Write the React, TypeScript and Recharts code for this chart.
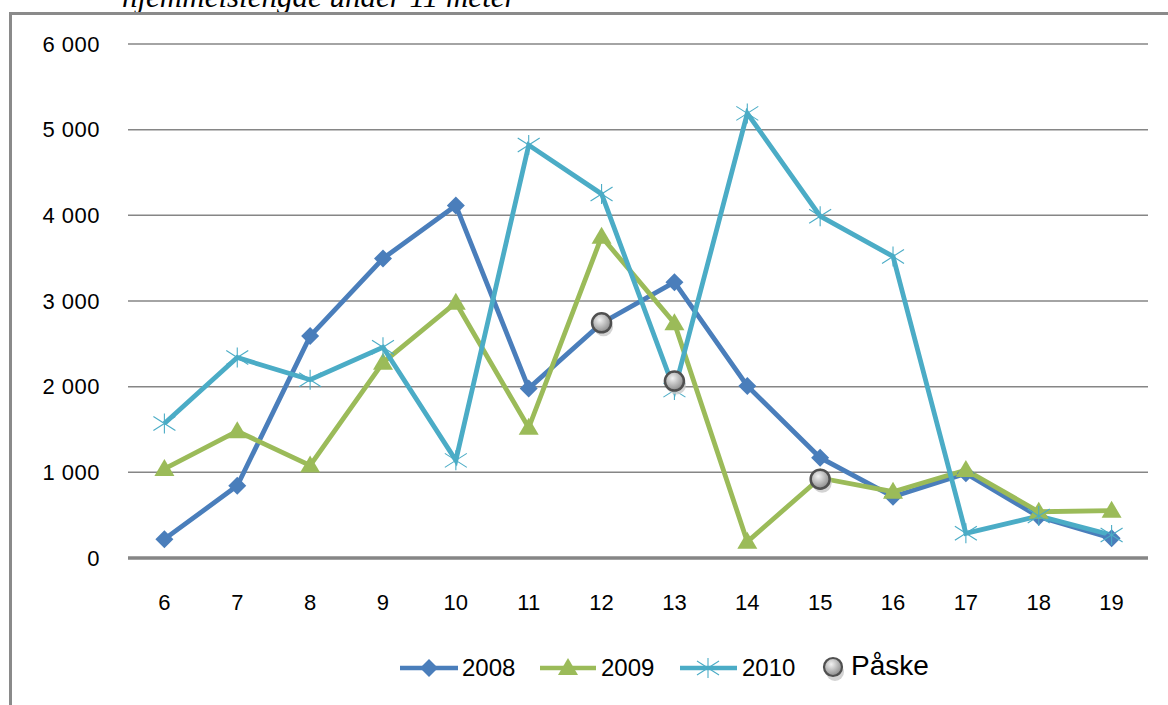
import React from "react";
import { LineChart, Line, CartesianGrid, XAxis, YAxis } from "recharts";

const weeks = [6, 7, 8, 9, 10, 11, 12, 13, 14, 15, 16, 17, 18, 19];
const s2008 = [220, 843, 2590, 3496, 4115, 1980, 2740, 3220, 2008, 1171, 716, 988, 482, 230];
const s2009 = [1040, 1480, 1080, 2280, 2980, 1520, 3750, 2740, 190, 934, 774, 1027, 540, 552];
const s2010 = [1570, 2340, 2080, 2460, 1140, 4820, 4250, 1960, 5190, 3990, 3520, 288, 490, 268];
const paske = [null, null, null, null, null, null, 2745, 2065, null, 920, null, null, null, null];
const yTicks = [0, 1000, 2000, 3000, 4000, 5000, 6000];

const C08 = "#4A7EBB";
const C09 = "#9BBB59";
const C10 = "#4BACC6";
const GRID = "#868686";
const FONT = "Liberation Sans, Arial, sans-serif";

const data = weeks.map((w, i) => ({
  week: w,
  y2008: s2008[i],
  y2009: s2009[i],
  y2010: s2010[i],
  paske: paske[i],
}));

const fmt = (v: number) => (v >= 1000 ? `${Math.floor(v / 1000)} ${String(v % 1000).padStart(3, "0")}` : `${v}`);

// recharts passes fill="#fff" to dots, so colours are fixed here
const Diamond = ({ cx, cy }: any) =>
  cx == null || cy == null ? null : (
    <path d={`M${cx},${cy - 9} L${cx + 9},${cy} L${cx},${cy + 9} L${cx - 9},${cy} Z`} fill={C08} />
  );

const Triangle = ({ cx, cy }: any) =>
  cx == null || cy == null ? null : (
    <path d={`M${cx},${cy - 10} L${cx + 10},${cy + 7} L${cx - 10},${cy + 7} Z`} fill={C09} />
  );

const Star = ({ cx, cy }: any) =>
  cx == null || cy == null ? null : (
    <g stroke={C10} strokeWidth={1.1}>
      <line x1={cx} y1={cy - 10} x2={cx} y2={cy + 10} />
      <line x1={cx - 11} y1={cy - 7} x2={cx + 11} y2={cy + 7} />
      <line x1={cx - 11} y1={cy + 7} x2={cx + 11} y2={cy - 7} />
    </g>
  );

const Ball = ({ cx, cy }: any) =>
  cx == null || cy == null ? null : (
    <g>
      <circle cx={cx + 2} cy={cy + 4} r={9.5} fill="#c8c8c8" opacity={0.8} />
      <circle cx={cx} cy={cy} r={9.5} fill="url(#ballGrad)" stroke="#505050" strokeWidth={2.5} />
    </g>
  );

const LegendBox = () => (
  <svg width={600} height={40} style={{ position: "absolute", left: 390, top: 648 }}>
    <defs>
      <radialGradient id="ballGradL" cx="40%" cy="35%" r="65%">
        <stop offset="0%" stopColor="#f2f2f2" />
        <stop offset="100%" stopColor="#8c8c8c" />
      </radialGradient>
    </defs>
    <g transform="translate(-390,-648)">
      <line x1={400} y1={668} x2={458} y2={668} stroke={C08} strokeWidth={4.5} />
      <Diamond cx={429} cy={668} />
      <text x={462} y={676} fontSize={24} fontFamily={FONT} fill="#000">2008</text>
      <line x1={540} y1={668} x2={596} y2={668} stroke={C09} strokeWidth={4.5} />
      <Triangle cx={568} cy={668} />
      <text x={601} y={676} fontSize={24} fontFamily={FONT} fill="#000">2009</text>
      <line x1={680} y1={668} x2={737} y2={668} stroke={C10} strokeWidth={4.5} />
      <Star cx={708} cy={668} />
      <text x={742} y={676} fontSize={24} fontFamily={FONT} fill="#000">2010</text>
      <circle cx={835} cy={672} r={9} fill="#c8c8c8" opacity={0.8} />
      <circle cx={833} cy={667} r={9} fill="url(#ballGradL)" stroke="#505050" strokeWidth={2.2} />
      <text x={851} y={675} fontSize={28} fontFamily={FONT} fill="#000">Påske</text>
    </g>
  </svg>
);

export default function App() {
  return (
    <div style={{ position: "fixed", left: 0, top: 0, width: 1168, height: 705, overflow: "hidden", background: "#fff" }}>
      <svg width={700} height={20} style={{ position: "absolute", left: 0, top: 0 }}>
        <text x={122} y={7} fontSize={31} fontStyle="italic" fontFamily="Liberation Serif, Times New Roman, serif" fill="#000">
          hjemmelslengde under 11 meter
        </text>
      </svg>
      <div
        style={{
          position: "absolute",
          left: 9,
          top: 12,
          width: 1300,
          height: 900,
          borderLeft: "3px solid #8a8a8a",
          borderTop: "3px solid #8a8a8a",
        }}
      />
      <div style={{ position: "absolute", left: 0, top: 0 }}>
        <LineChart width={1168} height={705} data={data} margin={{ top: 44, right: 20, bottom: 87, left: 10 }}>
          <defs>
            <radialGradient id="ballGrad" cx="40%" cy="35%" r="65%">
              <stop offset="0%" stopColor="#f2f2f2" />
              <stop offset="100%" stopColor="#8c8c8c" />
            </radialGradient>
          </defs>
          <CartesianGrid vertical={false} stroke={GRID} strokeWidth={1.5} />
          <XAxis
            dataKey="week"
            type="category"
            padding={{ left: 36.4, right: 36.4 }}
            axisLine={{ stroke: GRID, strokeWidth: 3.5 }}
            tickLine={false}
            tickMargin={30}
            tick={{ fill: "#000", fontSize: 22, fontFamily: FONT }}
            height={60}
          />
          <YAxis
            domain={[0, 6000]}
            ticks={yTicks}
            width={118}
            axisLine={false}
            tickLine={false}
            tickMargin={22}
            tickFormatter={fmt}
            tick={{ fill: "#000", fontSize: 22, fontFamily: FONT, letterSpacing: 0.5 }}
          />
          <Line dataKey="y2008" stroke={C08} strokeWidth={4.8} dot={<Diamond />} activeDot={false} isAnimationActive={false} />
          <Line dataKey="y2009" stroke={C09} strokeWidth={4.8} dot={<Triangle />} activeDot={false} isAnimationActive={false} />
          <Line dataKey="y2010" stroke={C10} strokeWidth={4.8} dot={<Star />} activeDot={false} isAnimationActive={false} />
          <Line dataKey="paske" stroke="none" dot={<Ball />} activeDot={false} isAnimationActive={false} />
        </LineChart>
      </div>
      <LegendBox />
    </div>
  );
}
